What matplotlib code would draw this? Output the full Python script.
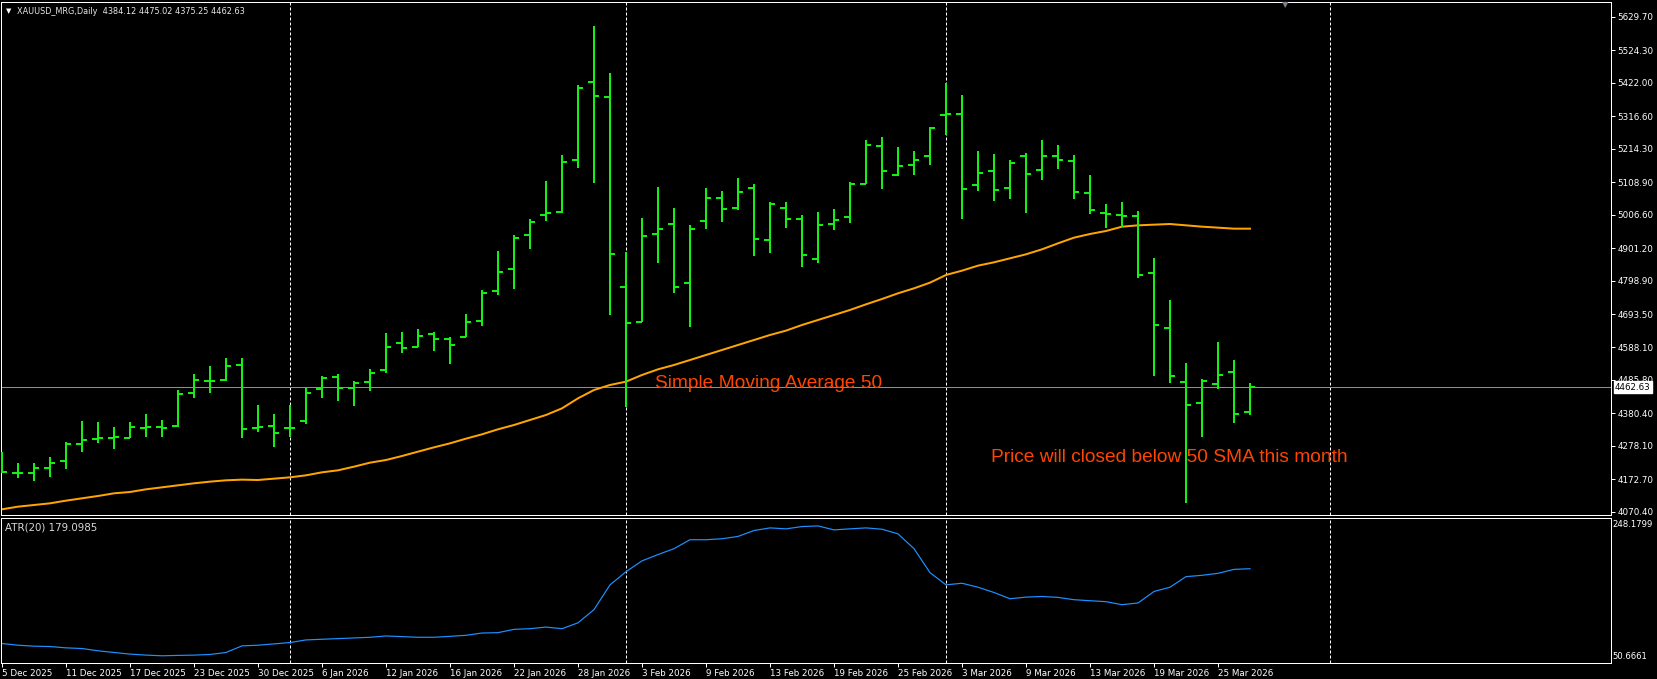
import matplotlib
matplotlib.use('Agg')
import matplotlib.pyplot as plt
import numpy as np

# --- chart data (XAUUSD daily) ---
header_text = 'XAUUSD_MRG,Daily  4384.12 4475.02 4375.25 4462.63'

opens = [4232.0, 4193.8, 4191.6, 4209.5, 4231.5, 4283.0, 4298.8, 4303.0, 4304.1, 4336.0,
         4337.0, 4340.8, 4445.8, 4482.0, 4485.7, 4533.0, 4335.0, 4340.8, 4334.0, 4356.5,
         4456.3, 4496.2, 4459.5, 4480.5, 4517.2, 4603.4, 4590.7, 4629.6, 4614.9, 4622.3,
         4672.7, 4767.2, 4836.5, 4943.6, 5005.6, 5016.1, 5180.0, 5423.6, 5378.5, 4777.7,
         4669.5, 4946.8, 4977.2, 4792.4, 4987.8, 5059.2, 5026.6, 5091.7, 4925.8, 5028.7,
         4994.1, 4865.9, 4977.2, 5000.4, 5104.3, 5224.1, 5132.7, 5164.2, 5190.5, 5321.0,
         5322.8, 5099.1, 5145.3, 5091.7, 5190.5, 5147.4, 5190.5, 5176.8, 5076.0, 5012.0,
         5004.0, 5003.5, 4823.9, 4650.6, 4480.5, 4414.3, 4473.1, 4509.9, 4384.12]
highs = [4259.9, 4223.2, 4223.2, 4242.0, 4289.3, 4355.5, 4352.3, 4336.6, 4352.3, 4377.5,
         4359.7, 4454.2, 4504.6, 4529.8, 4554.0, 4554.0, 4406.9, 4377.5, 4406.9, 4459.5,
         4499.4, 4504.6, 4482.6, 4519.3, 4632.7, 4635.9, 4645.4, 4635.9, 4622.3, 4692.6,
         4768.3, 4892.2, 4941.5, 4992.0, 5112.7, 5193.6, 5414.2, 5601.1, 5452.0, 4888.0,
         4995.1, 5092.8, 5026.6, 4973.0, 5089.6, 5080.2, 5121.1, 5102.2, 5047.6, 5045.5,
         5005.6, 5014.0, 5023.5, 5108.5, 5240.9, 5251.4, 5219.9, 5206.2, 5281.8, 5421.5,
         5382.7, 5207.3, 5197.8, 5177.9, 5199.9, 5241.9, 5225.1, 5193.6, 5131.6, 5040.3,
         5046.6, 5018.2, 4870.1, 4737.8, 4538.2, 4488.9, 4606.5, 4548.7, 4475.02]
lows = [4193.8, 4175.9, 4168.5, 4181.1, 4204.2, 4257.8, 4286.1, 4269.3, 4303.0, 4307.2,
        4307.2, 4336.6, 4430.1, 4445.8, 4482.6, 4301.9, 4322.9, 4273.5, 4307.2, 4346.0,
        4427.9, 4420.6, 4404.8, 4452.1, 4508.8, 4569.8, 4588.7, 4578.2, 4535.1, 4620.2,
        4656.9, 4754.6, 4771.4, 4897.4, 4987.8, 5010.9, 5154.7, 5105.4, 4690.5, 4401.7,
        4667.4, 4853.3, 4758.8, 4653.8, 4962.5, 4984.6, 5021.4, 4877.5, 4884.8, 4963.6,
        4840.7, 4853.3, 4958.3, 4979.3, 5103.3, 5088.6, 5129.5, 5130.6, 5164.2, 5257.7,
        4992.0, 5082.3, 5050.8, 5057.1, 5013.0, 5116.9, 5151.6, 5055.0, 5007.7, 4965.7,
        4968.8, 4806.0, 4499.4, 4475.2, 4097.1, 4305.1, 4456.3, 4349.2, 4375.25]
closes = [4196.9, 4191.6, 4207.4, 4225.2, 4283.0, 4296.7, 4304.1, 4305.0, 4338.7, 4337.0,
          4336.0, 4441.6, 4486.8, 4483.0, 4530.9, 4331.3, 4337.0, 4319.8, 4336.0, 4443.7,
          4493.1, 4459.5, 4477.3, 4508.8, 4590.7, 4587.6, 4625.4, 4614.9, 4597.1, 4669.5,
          4760.9, 4827.1, 4934.2, 4984.6, 5010.9, 5173.7, 5406.8, 5381.6, 4882.7, 4666.4,
          4940.5, 4961.5, 4779.8, 4962.5, 5059.2, 5025.6, 5078.1, 4928.9, 5041.3, 4994.1,
          4880.6, 4974.1, 4989.9, 5103.3, 5226.2, 5145.3, 5161.0, 5178.9, 5278.7, 5324.0,
          5087.5, 5139.0, 5084.4, 5170.5, 5135.8, 5192.6, 5178.9, 5078.1, 5021.4, 5010.0,
          5003.0, 4816.6, 4660.1, 4499.4, 4408.0, 4483.6, 4502.5, 4377.5, 4462.63]

sma50 = [4078.2, 4086.6, 4091.8, 4097.1, 4105.5, 4112.9, 4120.2, 4128.6, 4132.8, 4141.2,
         4147.5, 4153.8, 4160.1, 4165.4, 4169.6, 4171.7, 4170.6, 4174.8, 4179.0, 4185.3,
         4194.8, 4201.1, 4212.6, 4225.2, 4233.6, 4246.2, 4259.9, 4273.5, 4286.1, 4300.9,
         4314.5, 4330.3, 4343.9, 4359.7, 4375.4, 4396.4, 4427.9, 4454.2, 4470.0, 4480.5,
         4501.5, 4519.3, 4533.0, 4548.7, 4564.5, 4580.2, 4596.0, 4611.7, 4627.5, 4641.2,
         4659.0, 4674.8, 4690.5, 4706.3, 4724.1, 4740.9, 4758.8, 4774.5, 4792.4, 4816.6,
         4830.2, 4846.0, 4856.5, 4869.1, 4881.7, 4897.4, 4916.3, 4934.2, 4945.7, 4955.2,
         4968.8, 4973.0, 4975.1, 4977.2, 4973.0, 4968.8, 4965.7, 4962.5, 4962.5]

atr20 = [77.2, 74.9, 73.6, 73.1, 71.3, 70.4, 67.3, 65.0, 62.8, 61.4,
         60.5, 61.0, 61.4, 62.3, 65.0, 74.0, 74.9, 76.7, 78.5, 82.1,
         83.0, 83.9, 84.8, 85.7, 87.5, 86.6, 85.7, 85.7, 87.0, 88.4,
         91.5, 92.0, 96.5, 97.4, 99.6, 97.4, 105.4, 123.4, 157.1, 175.0,
         189.8, 198.4, 206.4, 218.6, 218.6, 219.9, 223.1, 231.1, 234.7, 233.4,
         236.5, 237.4, 232.0, 233.4, 234.7, 232.9, 226.6, 206.4, 173.7, 157.1,
         159.3, 153.9, 146.7, 138.2, 140.4, 141.3, 140.0, 136.9, 135.5, 134.2,
         130.1, 132.4, 148.1, 153.9, 168.3, 170.1, 172.8, 178.2, 179.0985]

date_labels = ['5 Dec 2025', '11 Dec 2025', '17 Dec 2025', '23 Dec 2025', '30 Dec 2025',
               '6 Jan 2026', '12 Jan 2026', '16 Jan 2026', '22 Jan 2026', '28 Jan 2026',
               '3 Feb 2026', '9 Feb 2026', '13 Feb 2026', '19 Feb 2026', '25 Feb 2026',
               '3 Mar 2026', '9 Mar 2026', '13 Mar 2026', '19 Mar 2026', '25 Mar 2026']
price_ticks = [4070.40, 4172.70, 4278.10, 4380.40, 4485.80, 4588.10, 4693.50, 4798.90,
               4901.20, 5006.60, 5108.90, 5214.30, 5316.60, 5422.00, 5524.30, 5629.70]
month_start_bars = [18, 39, 59, 83]
last_price = 4462.63
atr_label = 'ATR(20) 179.0985'
atr_range = (50.6661, 248.1799)

sma_note = 'Simple Moving Average 50'
sma_note_at = (40.8, 4476.0)
price_note = 'Price will closed below 50 SMA this month'
price_note_at = (61.8, 4243.0)

# --- layout helpers (pixel based, MT4 look) ---
W, H = 1658, 679
PX = 0.72  # one pixel in points at dpi 100
BAR_PX = 16


def px_rect(left, top, right, bottom):
    return [left / W, 1 - bottom / H, (right - left) / W, (bottom - top) / H]


def style_panel(ax):
    ax.set_facecolor('black')
    for sp in ax.spines.values():
        sp.set_color('white')
        sp.set_linewidth(PX)
    ax.set_xlim((1 - 2) / BAR_PX, (1611 - 2) / BAR_PX)
    for b in month_start_bars:
        ax.axvline(b, color='white', lw=PX, ls=(0, (3, 2)), zorder=1)


def main():
    fig = plt.figure(figsize=(W / 100, H / 100), dpi=100, facecolor='black')
    ax = fig.add_axes(px_rect(1, 2, 1611, 515))
    ax2 = fig.add_axes(px_rect(1, 518, 1611, 663))
    style_panel(ax)
    style_panel(ax2)

    x = np.arange(len(closes))
    green = '#14f014'
    tick = 5.5 / BAR_PX
    ax.vlines(x, lows, highs, color=green, lw=2 * PX, zorder=3)
    ax.hlines(opens, x - tick, x, color=green, lw=2 * PX, zorder=3)
    ax.hlines(closes, x, x + tick, color=green, lw=2 * PX, zorder=3)
    ax.plot(x, sma50, color='#ffa500', lw=2 * PX, zorder=2)
    ax.axhline(last_price, color='#8c9096', lw=PX, zorder=1)

    ax.set_ylim(4060.3, 5676.7)
    ax.set_xticks([])
    ax.set_yticks(price_ticks, labels=[f'{v:.2f}' for v in price_ticks])
    ax.yaxis.tick_right()
    ax.tick_params(axis='y', colors='white', length=3, width=PX,
                   labelsize=6.3, pad=1.5)

    ax.annotate(f'{last_price:.2f}', xy=(1.0, last_price),
                xycoords=('axes fraction', 'data'), xytext=(4, 0),
                textcoords='offset pixels', ha='left', va='center',
                fontsize=6.3, color='black', annotation_clip=False, zorder=10,
                bbox=dict(boxstyle='square,pad=0.15', fc='white', ec='white'))

    note_font = dict(family='Liberation Sans', fontsize=13.8, color='#ff4500',
                     va='center', ha='left', zorder=4)
    ax.text(*sma_note_at, sma_note, **note_font)
    ax.text(*price_note_at, price_note, **note_font)

    # ATR sub-window
    ax2.plot(x, atr20, color='#1e90ff', lw=PX * 1.2)
    ax2.set_ylim(*atr_range)
    ax2.set_yticks([])
    ax2.set_xticks(np.arange(0, len(closes) - 2, 4), labels=date_labels)
    for lbl in ax2.get_xticklabels():
        lbl.set_horizontalalignment('left')
    ax2.tick_params(axis='x', colors='white', length=3, width=PX,
                    labelsize=6.3, pad=1)
    ax2.text(1.001, 0.985, f'{atr_range[1]:.4f}', transform=ax2.transAxes,
             ha='left', va='top', color='white', fontsize=6.1)
    ax2.text(1.001, 0.015, f'{atr_range[0]:.4f}', transform=ax2.transAxes,
             ha='left', va='bottom', color='white', fontsize=6.1)
    ax2.text(4 / 1610, 0.97, atr_label, transform=ax2.transAxes,
             ha='left', va='top', color='#d8d8d8', fontsize=7.4)

    # header
    fig.text(6 / W, 1 - 11 / H, '\u25bc', color='white', fontsize=5,
             ha='left', va='center')
    fig.text(17 / W, 1 - 11 / H, header_text, color='#e8e8e8', fontsize=5.9,
             ha='left', va='center')
    fig.text(1285 / W, 1 - 5 / H, '\u25bc', color='#7a8088', fontsize=6,
             ha='center', va='center')

    fig.savefig('out.png', dpi=100, facecolor='black')


if __name__ == '__main__':
    main()
